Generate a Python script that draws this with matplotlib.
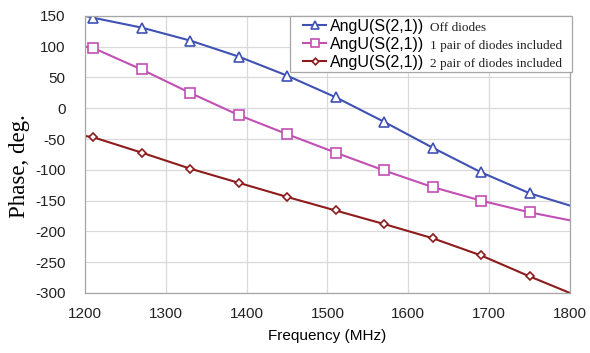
import matplotlib
matplotlib.use("Agg")
import matplotlib.pyplot as plt
from matplotlib.patches import Rectangle
from matplotlib.transforms import IdentityTransform

plt.rcParams['font.family'] = ['Liberation Sans', 'DejaVu Sans']
plt.rcParams['axes.unicode_minus'] = False

# frequency points (MHz); markers are on the inner points only
freq = [1200, 1210, 1270, 1330, 1390, 1450, 1510, 1570, 1630, 1690, 1750, 1800]
off_diodes = [150, 147, 131, 110, 84, 53, 18, -22, -64, -104, -138, -158]
one_pair = [100, 98, 63, 25, -11, -42, -72, -101, -128, -150, -169, -182]
two_pair = [-45, -47, -72, -98, -121, -144, -166, -188, -211, -239, -273, -300]

series_name = "AngU(S(2,1))"
notes = ["Off diodes", "1 pair of diodes included", "2 pair of diodes included"]

W, H = 590, 353
fig = plt.figure(figsize=(W / 100, H / 100), dpi=100)
ax = fig.add_axes([0.144, 0.170, 0.822, 0.785])

ax.plot(freq, off_diodes, color='#3F51B5', lw=1.5, marker='^', ms=7,
        mfc='white', mew=1.2, markevery=slice(1, -1), label=series_name)
ax.plot(freq, one_pair, color='#C24FB4', lw=1.5, marker='s', ms=7,
        mfc='white', mew=1.2, markevery=slice(1, -1), label=series_name)
ax.plot(freq, two_pair, color='#8E1B1B', lw=1.5, marker='D', ms=4.5,
        mfc='white', mew=1.2, markevery=slice(1, -1), label=series_name)

ax.set_xlim(1200, 1800)
ax.set_ylim(-300, 150)
ax.set_xticks(range(1200, 1801, 100))
ax.set_yticks(range(-300, 151, 50))
ax.grid(True, color='#D9D9D9', lw=0.9)
ax.set_axisbelow(True)
for s in ax.spines.values():
    s.set_color('#A6A6A6')
    s.set_linewidth(0.9)
ax.tick_params(length=0, labelsize=11, pad=10, colors='#222222')
ax.tick_params(axis='y', pad=14)

ax.set_xlabel("Frequency (MHz)", fontsize=11, labelpad=6)
ax.set_ylabel("Phase, deg.", fontsize=16.5, family=['Liberation Serif'])
ax.yaxis.set_label_coords(-0.113, 0.458)

# legend: sans series name, serif note after it, one white box round both
ax_left = 0.144 * W
leg = ax.legend(loc='upper left', bbox_to_anchor=((300 - ax_left) / (0.822 * W), 1.0),
                fontsize=11.5, frameon=False, borderpad=0.2, labelspacing=0.18,
                handlelength=1.45, handletextpad=0.25, borderaxespad=0, markerscale=0.75)
leg.set_zorder(6)

fig.canvas.draw()
renderer = fig.canvas.get_renderer()
right = 0
for t, note in zip(leg.get_texts(), notes):
    bb = t.get_window_extent(renderer)
    _, _, d = renderer.get_text_width_height_descent(t.get_text(), t.get_fontproperties(), ismath=False)
    nt = ax.text(bb.x1 + 5, bb.y0 + d, note, transform=IdentityTransform(),
                 fontsize=9.5, family=['Liberation Serif'], va='baseline', ha='left',
                 color='#222222', zorder=7)
    right = max(right, nt.get_window_extent(renderer).x1)

top = H - 15.5
bottom = H - 72
box = Rectangle((290, bottom), right + 10 - 290, top - bottom, transform=IdentityTransform(),
                facecolor='white', edgecolor='#A6A6A6', lw=0.9, zorder=5, clip_on=False)
ax.add_artist(box)

fig.savefig("out.png", dpi=100)
